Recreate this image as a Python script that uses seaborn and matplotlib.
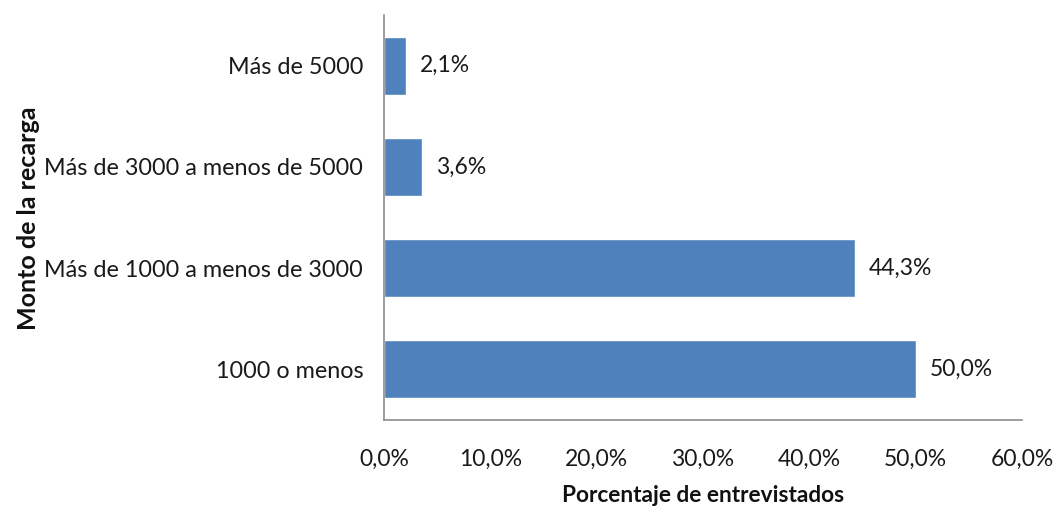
import matplotlib
matplotlib.use("Agg")
import matplotlib.pyplot as plt
import matplotlib.ticker as mticker
import seaborn as sns
import pandas as pd

# Recharge amount brackets and share of respondents (%)
categorias = ["Más de 5000", "Más de 3000 a menos de 5000",
              "Más de 1000 a menos de 3000", "1000 o menos"]
porcentajes = [2.1, 3.6, 44.3, 50.0]
ticks_x = [0, 10, 20, 30, 40, 50, 60]

sns.set_style("white")
plt.rcParams["font.family"] = ["Lato", "DejaVu Sans"]

df = pd.DataFrame({"categoria": categorias, "porcentaje": porcentajes})

W, H = 1056, 508
fig = plt.figure(figsize=(W / 100, H / 100), dpi=100)
ax = fig.add_axes([384 / W, (H - 420) / H, (1022 - 384) / W, (420 - 15) / H])

sns.barplot(data=df, x="porcentaje", y="categoria", orient="h",
            color="#4F81BD", saturation=1, width=0.575, ax=ax)

for i, v in enumerate(porcentajes):
    ax.annotate(f"{v:.1f}".replace(".", ",") + "%", xy=(v, i),
                xytext=(10, 0), textcoords="offset points",
                va="center", ha="left", fontsize=16.5, color="#1a1a1a")

ax.set_xlim(0, 60)
ax.set_ylim(3.5, -0.5)
ax.set_xticks(ticks_x)
ax.xaxis.set_major_formatter(mticker.FuncFormatter(
    lambda x, p: f"{x:.1f}".replace(".", ",") + "%"))

ax.tick_params(axis="x", length=0, pad=21, labelsize=16.5, labelcolor="#1a1a1a")
ax.tick_params(axis="y", length=0, pad=15, labelsize=16.8, labelcolor="#1a1a1a")

for s in ["top", "right"]:
    ax.spines[s].set_visible(False)
for s in ["left", "bottom"]:
    ax.spines[s].set_color("#8c8c8c")
    ax.spines[s].set_linewidth(1.2)

ax.set_xlabel("Porcentaje de entrevistados", fontsize=16.3, fontweight="bold",
              color="#111111", labelpad=11)
ax.set_ylabel("")
fig.text(29 / W, 1 - 218 / H, "Monto de la recarga", rotation=90,
         ha="center", va="center", fontsize=18, fontweight="bold",
         color="#111111")

fig.savefig("out.png", dpi=100)
